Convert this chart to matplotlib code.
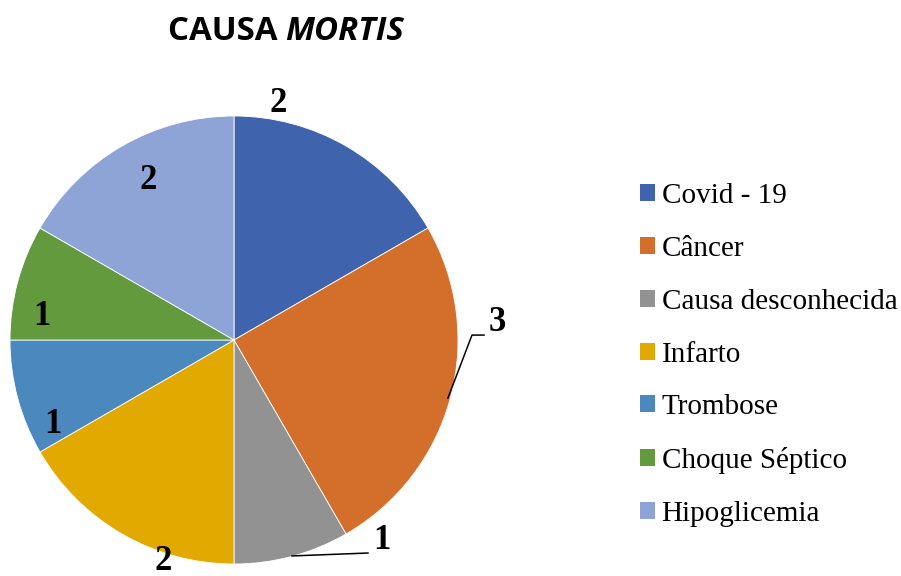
import matplotlib
matplotlib.use("Agg")
import matplotlib.pyplot as plt
from matplotlib.patches import Patch

categories = ["Covid - 19", "Câncer", "Causa desconhecida", "Infarto",
              "Trombose", "Choque Séptico", "Hipoglicemia"]
values = [2, 3, 1, 2, 1, 1, 2]
colors = ["#3F64AD", "#D46E2B", "#929292", "#E2A900", "#4B88BE", "#649A3E", "#8FA4D6"]

# label positions (axes data units, radius = 1)
label_pos = [(0.196, 1.058), (1.174, 0.076), (0.661, -0.897), (-0.317, -0.991),
             (-0.808, -0.379), (-0.857, 0.107), (-0.384, 0.714)]

W, H = 901, 576
fig = plt.figure(figsize=(W / 100, H / 100), dpi=100)
R = 224
cx, cy = 234, 340
ax = fig.add_axes([(cx - R) / W, (H - cy - R) / H, 2 * R / W, 2 * R / H])
ax.pie(values, colors=colors, startangle=90, counterclock=False, radius=1,
       wedgeprops=dict(linewidth=0.6, edgecolor="white"))
ax.set_xlim(-1, 1)
ax.set_ylim(-1, 1)
ax.set_aspect("auto")
ax.axis("off")

for v, (x, y) in zip(values, label_pos):
    ax.text(x, y, str(v), ha="center", va="center", fontsize=25, fontweight="bold",
            family="Liberation Serif", color="black", clip_on=False)

# leader lines
ax.plot([0.955, 1.0625, 1.116], [-0.259, 0.022, 0.022], color="black", lw=1.1, clip_on=False)
ax.plot([0.259, 0.598], [-0.964, -0.951], color="black", lw=1.1, clip_on=False)

# title
fig.canvas.draw()
r = fig.canvas.get_renderer()
t1 = fig.text(0, 0, "CAUSA ", fontsize=23.8, fontweight="bold", family="Open Sans")
t2 = fig.text(0, 0, "MORTIS", fontsize=23.8, fontweight="bold", style="italic", family="Open Sans")
w1 = t1.get_window_extent(r).width
w2 = t2.get_window_extent(r).width
tot = w1 + w2
x0 = 286 - tot / 2
ty = (H - 32) / H
t1.set_position((x0 / W, ty)); t1.set_va("center")
t2.set_position(((x0 + w1) / W, ty)); t2.set_va("center")

handles = [Patch(facecolor=c, edgecolor="none") for c in colors]
leg = fig.legend(handles, categories, loc="upper left", bbox_to_anchor=(640 / W, (H - 183) / H),
                 frameon=False, prop=dict(family="Liberation Serif", size=21),
                 handlelength=0.52, handleheight=0.52, handletextpad=0.22,
                 labelspacing=0.92, borderpad=0, borderaxespad=0)

fig.savefig("out.png", dpi=100)
